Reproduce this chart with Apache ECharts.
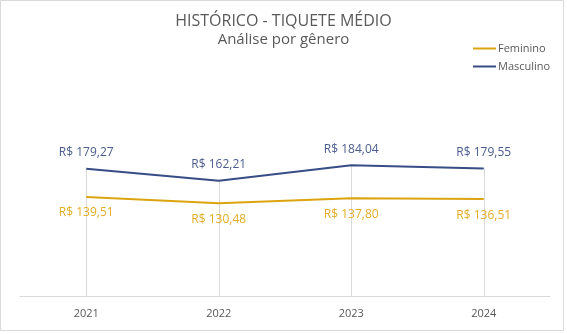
<!DOCTYPE html>
<html>
<head>
<meta charset="utf-8">
<script src="https://cdn.jsdelivr.net/npm/echarts@6/dist/echarts.min.js"></script>
<style>
  html, body { margin: 0; padding: 0; background: #fff; }
  #chart { width: 567px; height: 334px; }
</style>
</head>
<body>
<div id="chart"></div>
<script>
// Average ticket per year, split by gender (values in R$)
const years = ['2021', '2022', '2023', '2024'];
const feminino = [139.51, 130.48, 137.80, 136.51];
const masculino = [179.27, 162.21, 184.04, 179.55];

const FONT = '"Open Sans", "Liberation Sans", sans-serif';
const GOLD = '#DCA410';
const GOLD_LABEL = '#E3AC25';
const NAVY = '#384C86';
const NAVY_LABEL = '#4A5C8E';

const brl = v => 'R$ ' + v.toFixed(2).replace('.', ',');

// Vertical drop lines from the higher point of each year down to the axis
const dropLines = years.map((y, i) => {
  const top = Math.max(feminino[i], masculino[i]);
  return [{ coord: [y, top] }, { coord: [y, 0] }];
});

const chart = echarts.init(document.getElementById('chart'), null, { renderer: 'canvas' });
chart.setOption({
  animation: false,
  backgroundColor: '#ffffff',
  textStyle: { fontFamily: FONT },
  title: {
    text: 'HISTÓRICO - TIQUETE MÉDIO',
    subtext: 'Análise por gênero',
    left: 'center',
    top: 8,
    itemGap: 3,
    textStyle: { fontFamily: FONT, fontSize: 16, fontWeight: 'normal', color: '#595959' },
    subtextStyle: { fontFamily: FONT, fontSize: 15, color: '#595959' }
  },
  legend: {
    orient: 'vertical',
    left: 468,
    top: 38,
    itemGap: 7,
    itemWidth: 23,
    itemHeight: 2,
    icon: 'rect',
    textStyle: { fontFamily: FONT, fontSize: 11, color: '#595959', padding: [0, 0, 0, -3] },
    data: ['Feminino', 'Masculino']
  },
  grid: { left: 20, right: 17, top: 154, bottom: 38, containLabel: false },
  xAxis: {
    type: 'category',
    data: years,
    boundaryGap: true,
    axisLine: { lineStyle: { color: '#d9d9d9', width: 1 } },
    axisTick: { show: false },
    axisLabel: { color: '#595959', fontSize: 11, fontFamily: FONT, margin: 12 },
    splitLine: { show: false }
  },
  yAxis: {
    type: 'value',
    min: 0,
    max: 200,
    show: false,
    splitLine: { show: false }
  },
  series: [
    {
      name: 'Feminino',
      type: 'line',
      data: feminino,
      symbol: 'circle',
      symbolSize: 0.1,
      showSymbol: true,
      lineStyle: { color: GOLD, width: 2 },
      itemStyle: { color: GOLD },
      z: 3,
      label: {
        show: true,
        position: 'bottom',
        distance: 10,
        color: GOLD_LABEL,
        fontSize: 12,
        fontFamily: FONT,
        formatter: p => brl(p.value)
      }
    },
    {
      name: 'Masculino',
      type: 'line',
      data: masculino,
      symbol: 'circle',
      symbolSize: 0.1,
      showSymbol: true,
      lineStyle: { color: NAVY, width: 2 },
      itemStyle: { color: NAVY },
      z: 3,
      label: {
        show: true,
        position: 'top',
        distance: 10,
        color: NAVY_LABEL,
        fontSize: 12,
        fontFamily: FONT,
        formatter: p => brl(p.value)
      },
      markLine: {
        silent: true,
        symbol: 'none',
        z: 1,
        label: { show: false },
        lineStyle: { color: '#d9d9d9', width: 1, type: 'solid' },
        data: dropLines
      }
    }
  ],
  graphic: [{
    type: 'rect',
    shape: { x: 0.5, y: 0.5, width: 563, height: 330 },
    style: { fill: 'none', stroke: '#d9d9d9', lineWidth: 1 },
    silent: true,
    z: -1
  }]
});
</script>
</body>
</html>
